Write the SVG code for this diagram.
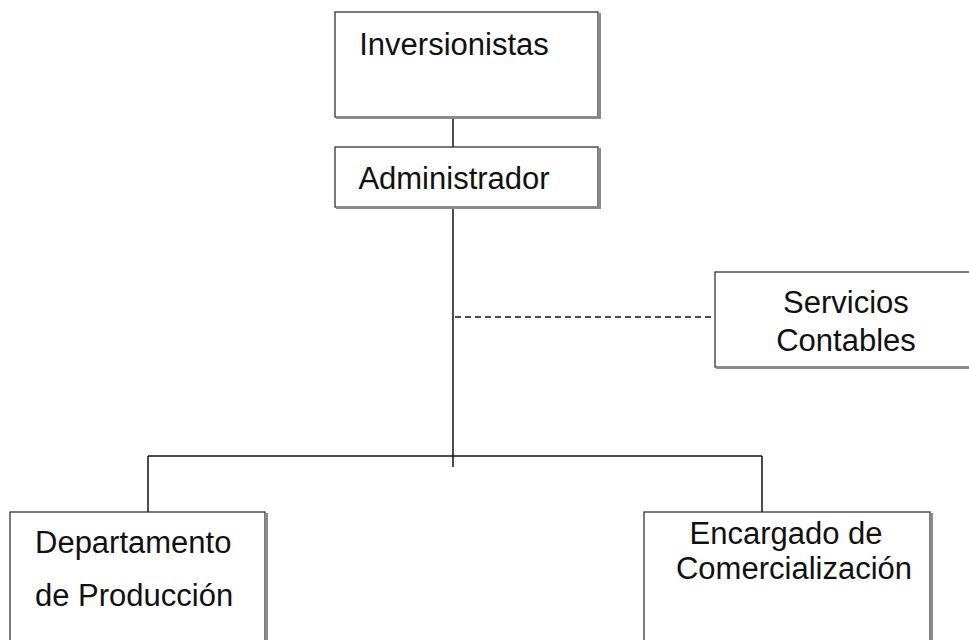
<svg xmlns="http://www.w3.org/2000/svg" width="969" height="640" viewBox="0 0 969 640">
<style>
.box{fill:#fff;stroke:#222;stroke-width:1.2}
.sh{stroke:#8a8a8a;stroke-width:3;fill:none}
.t{font-family:"Liberation Sans",Arial,sans-serif;font-size:31px;fill:#111}
.c{text-anchor:middle}
.ln{stroke:#111;stroke-width:1.5;fill:none}
.dash{stroke:#111;stroke-width:1.3;fill:none;stroke-dasharray:6 4}
</style>
<rect width="969" height="640" fill="#fff"/>
<g id="connectors">
<line class="ln" x1="453" y1="117" x2="453" y2="147"/>
<line class="ln" x1="453" y1="207" x2="453" y2="467"/>
<line class="ln" x1="148" y1="456" x2="762" y2="456"/>
<line class="ln" x1="148" y1="456" x2="148" y2="512"/>
<line class="ln" x1="762" y1="456" x2="762" y2="512"/>
<line class="dash" x1="455" y1="317" x2="714" y2="317"/>
</g>
<g id="inversionistas">
<rect class="box" x="335" y="12" width="263" height="105"/>
<path class="sh" d="M336 117.5H599.5V13"/>
<text class="t c" x="454" y="55">Inversionistas</text>
</g>
<g id="administrador">
<rect class="box" x="335" y="147" width="263" height="60"/>
<path class="sh" d="M336 207.5H599.5V148"/>
<text class="t c" x="454" y="189">Administrador</text>
</g>
<g id="servicios">
<rect class="box" x="715" y="272" width="260" height="95"/>
<path class="sh" d="M716 367.5H975"/>
<text class="t c" x="846" y="313">Servicios</text>
<text class="t c" x="846" y="351">Contables</text>
</g>
<g id="departamento">
<rect class="box" x="10" y="512" width="255" height="140"/>
<path class="sh" d="M266.5 513V645"/>
<text class="t" x="35" y="553">Departamento</text>
<text class="t" x="35" y="606">de Producción</text>
</g>
<g id="encargado">
<rect class="box" x="644" y="512" width="286" height="140"/>
<path class="sh" d="M931.5 513V645"/>
<text class="t c" x="786" y="544">Encargado de</text>
<text class="t c" x="794" y="579">Comercialización</text>
</g>
</svg>
